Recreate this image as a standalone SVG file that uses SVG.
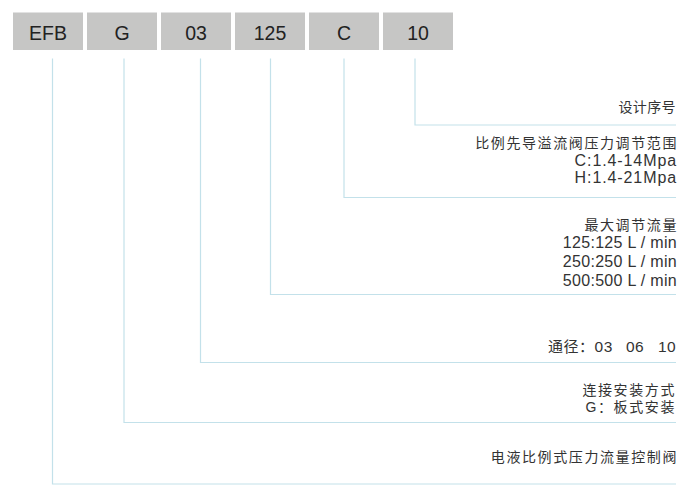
<svg xmlns="http://www.w3.org/2000/svg" width="700" height="501" viewBox="0 0 700 501">
<style>
.box{fill:#c6c6c5}
.bt{font-family:"Liberation Sans",Arial,sans-serif;font-size:19.5px;fill:#222;text-anchor:middle}
.ln{fill:none;stroke:#c3e1ea;stroke-width:1.2}
.t{font-family:"Liberation Sans","Noto Sans CJK SC",sans-serif;font-size:16px;fill:#333;text-anchor:end;letter-spacing:0.9px}
.c{font-size:14px;letter-spacing:1.6px}
.n{letter-spacing:0.3px}
</style>
<rect width="700" height="501" fill="#fff"/>
<g id="node-EFB"><rect class="box" x="13" y="12.5" width="70" height="37.5"/><text class="bt" x="48" y="39.5">EFB</text></g>
<g id="node-G"><rect class="box" x="87" y="12.5" width="70" height="37.5"/><text class="bt" x="122" y="39.5">G</text></g>
<g id="node-03"><rect class="box" x="161" y="12.5" width="70" height="37.5"/><text class="bt" x="196" y="39.5">03</text></g>
<g id="node-125"><rect class="box" x="235" y="12.5" width="70" height="37.5"/><text class="bt" x="270" y="39.5">125</text></g>
<g id="node-C"><rect class="box" x="309" y="12.5" width="70" height="37.5"/><text class="bt" x="344" y="39.5">C</text></g>
<g id="node-10"><rect class="box" x="383" y="12.5" width="70" height="37.5"/><text class="bt" x="418" y="39.5">10</text></g>
<g id="connectors">
<path class="ln" d="M415 58.5V125H676"/>
<path class="ln" d="M344 58.5V197.5H676"/>
<path class="ln" d="M270.5 58.5V294.5H676"/>
<path class="ln" d="M200.5 58.5V362.5H676"/>
<path class="ln" d="M124 58.5V422.5H676"/>
<path class="ln" d="M52.5 58.5V484H676"/>
</g>
<g id="label-10"><text class="t c" x="676" y="112" style="letter-spacing:0.4px">设计序号</text></g>
<g id="label-C">
<text class="t c" x="678" y="148">比例先导溢流阀压力调节范围</text>
<text class="t" x="677" y="166">C:1.4-14Mpa</text>
<text class="t" x="677" y="183">H:1.4-21Mpa</text>
</g>
<g id="label-125">
<text class="t c" x="678" y="230">最大调节流量</text>
<text class="t n" x="677" y="248">125:125 L / min</text>
<text class="t n" x="677" y="267">250:250 L / min</text>
<text class="t n" x="677" y="286">500:500 L / min</text>
</g>
<g id="label-03"><text class="t" x="548" y="352" style="text-anchor:start;letter-spacing:0.5px;font-size:15px">通径：<tspan style="font-size:15.5px">03 </tspan><tspan x="626" style="font-size:15.5px">06 </tspan><tspan x="658" style="font-size:15.5px">10</tspan></text></g>
<g id="label-G">
<text class="t c" x="676" y="395">连接安装方式</text>
<text class="t c" x="676" y="412">G：板式安装</text>
</g>
<g id="label-EFB"><text class="t c" x="678" y="462">电液比例式压力流量控制阀</text></g>
</svg>
